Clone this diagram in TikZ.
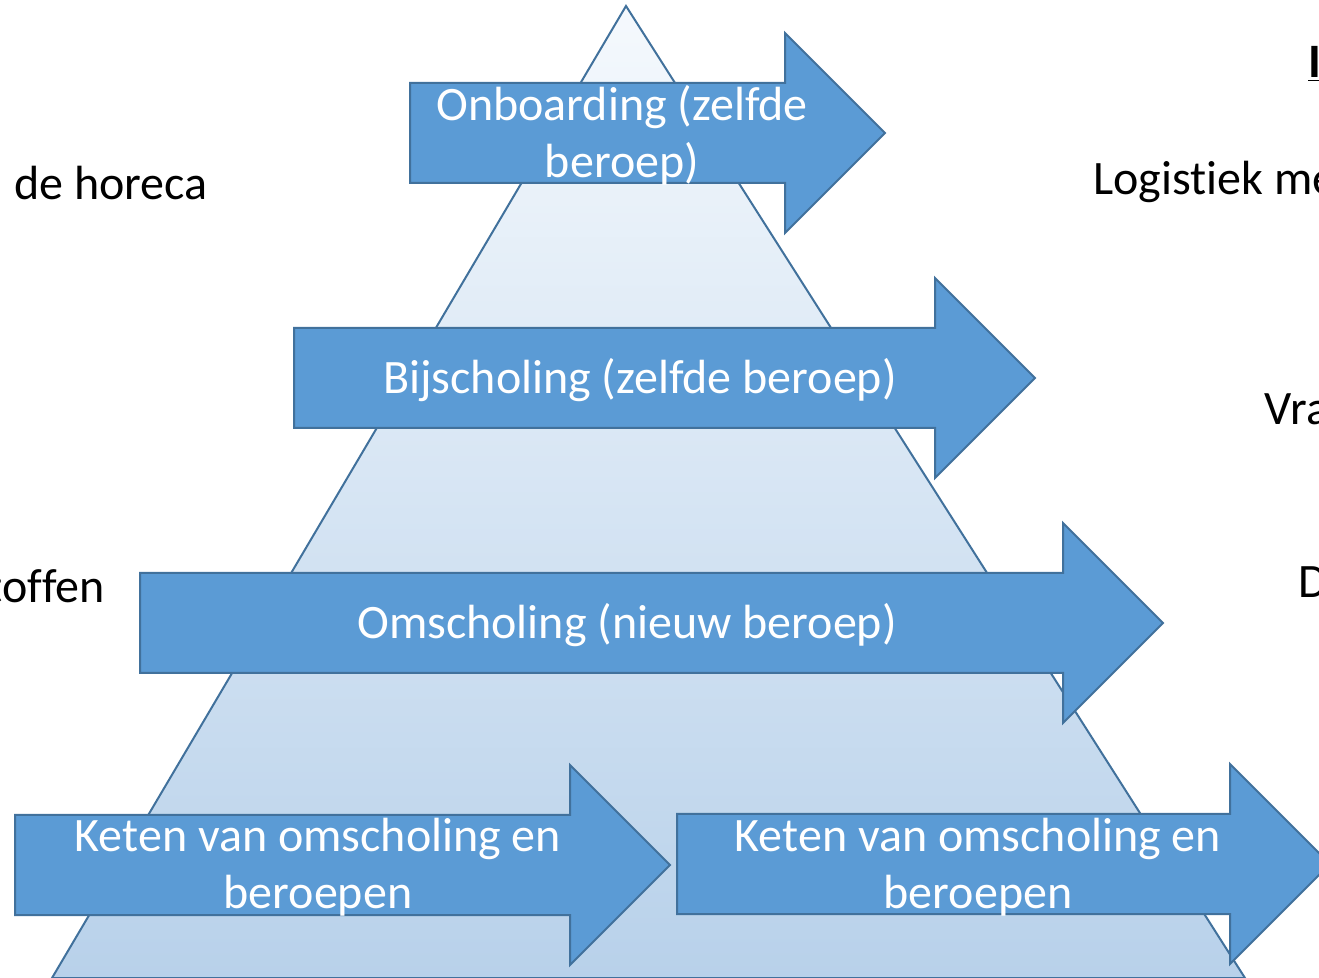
\documentclass[tikz,border=0pt]{standalone}
\usepackage{fontspec}
\setmainfont{Carlito}[Ligatures=NoCommon]
\usepackage{tikz}
\usetikzlibrary{positioning}
\definecolor{arrowblue}{HTML}{5B9BD5}
\definecolor{edgeblue}{HTML}{41719C}
\definecolor{topblue}{HTML}{F5F9FD}
\definecolor{baseblue}{HTML}{B8D1EA}
\tikzset{
  blockarrow/.style={fill=arrowblue, draw=edgeblue, line width=1pt, line join=miter},
  arrowtext/.style={text=white, font=\fontsize{24}{28.5}\selectfont, align=center, inner sep=0pt},
  sidetext/.style={text=black, font=\fontsize{24}{28}\selectfont, inner sep=0pt},
}

\begin{document}
\begin{tikzpicture}[x=0.5pt, y=-0.5pt]
    \useasboundingbox (0,0) rectangle (1319,978);
    \clip (0,0) rectangle (1319,978);

    %% drawing the pyramid
    \draw[edgeblue, line width=1pt, top color=topblue, bottom color=baseblue]
      (626,6) -- (1245,978) -- (52,978) -- cycle;

    %% block arrows: name / left end / end of shaft / middle
    \foreach \name/\l/\s/\m in {onb/410/785/133, bij/294/935/378, oms/140/1063/623,
                                ketA/15/570/865, ketB/677/1230/864}{
      \draw[blockarrow] (\l,\m-50) -- (\s,\m-50) -- (\s,\m-100) -- (\s+100,\m)
        -- (\s,\m+100) -- (\s,\m+50) -- (\l,\m+50) -- cycle;}

    %% texts on the arrows
    \node[arrowtext] (onbtext) at (622,135) {Onboarding (zelfde\\beroep)};
    \node[arrowtext] (bijtext) at (640,380) {Bijscholing (zelfde beroep)};
    \node[arrowtext] (omstext) at (627,625) {Omscholing (nieuw beroep)};
    \node[arrowtext] (ketAtext) at (318,867) {Keten van omscholing en\\beroepen};
    \node[arrowtext] (ketBtext) at (978,867) {Keten van omscholing en\\beroepen};

    %% texts at the sides
    \node[sidetext, anchor=base west] (horeca) at (14,200) {de horeca};
    \node[sidetext, anchor=base east] (stoffen) at (105,603) {toffen};
    \node[sidetext, anchor=base west] (logistiek) at (1093,195) {Logistiek me};
    \node[sidetext, anchor=base west] (vra) at (1264,425) {Vra};
    \node[sidetext, anchor=base west] (dtext) at (1298,598) {D};
    \node[sidetext, anchor=base west] (ititle) at (1308,78) {\textbf{\underline{I}}};

  \end{tikzpicture}
\end{document}
